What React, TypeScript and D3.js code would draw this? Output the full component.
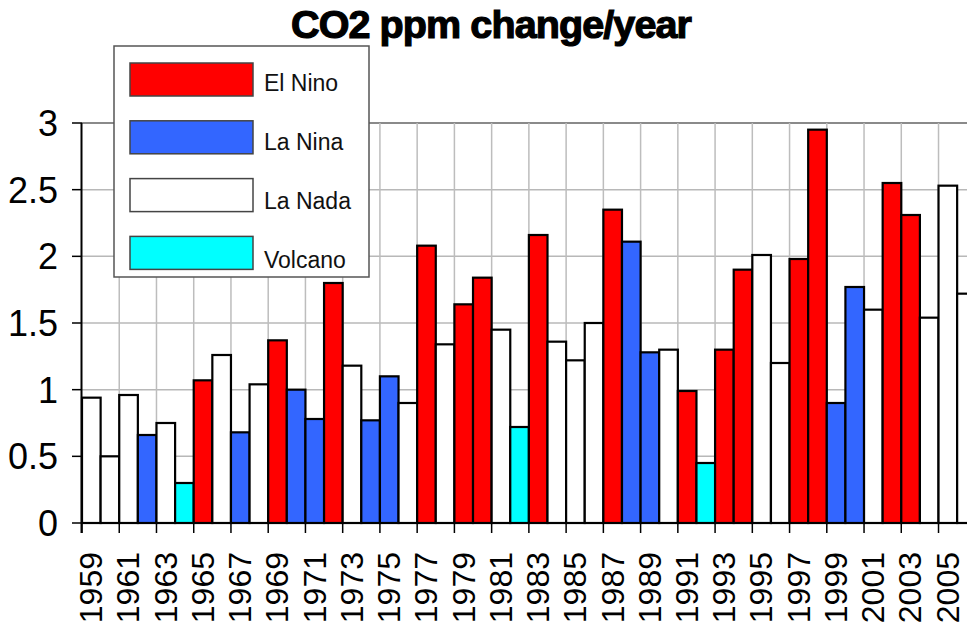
import React from "react";
import * as d3 from "d3";

const years: number[] = [
  1959, 1960, 1961, 1962, 1963, 1964, 1965, 1966, 1967, 1968, 1969, 1970,
  1971, 1972, 1973, 1974, 1975, 1976, 1977, 1978, 1979, 1980, 1981, 1982,
  1983, 1984, 1985, 1986, 1987, 1988, 1989, 1990, 1991, 1992, 1993, 1994,
  1995, 1996, 1997, 1998, 1999, 2000, 2001, 2002, 2003, 2004, 2005, 2006,
];
const values: number[] = [
  0.94, 0.5, 0.96, 0.66, 0.75, 0.3, 1.07, 1.26, 0.68, 1.04, 1.37, 1.0,
  0.78, 1.8, 1.18, 0.77, 1.1, 0.9, 2.08, 1.34, 1.64, 1.84, 1.45, 0.72,
  2.16, 1.36, 1.22, 1.5, 2.35, 2.11, 1.28, 1.3, 0.99, 0.45, 1.3, 1.9,
  2.01, 1.2, 1.98, 2.95, 0.9, 1.77, 1.6, 2.55, 2.31, 1.54, 2.53, 1.72,
];
// E = El Nino, L = La Nina, N = La Nada, V = Volcano
const phases: string[] = [
  "N", "N", "N", "L", "N", "V", "E", "N", "L", "N", "E", "L",
  "L", "E", "N", "L", "L", "N", "E", "N", "E", "E", "N", "V",
  "E", "N", "N", "N", "E", "L", "L", "N", "E", "V", "E", "E",
  "N", "N", "E", "E", "L", "L", "N", "E", "E", "N", "N", "N",
];
const legendKeys: string[] = ["E", "L", "N", "V"];
const legendLabels: string[] = ["El Nino", "La Nina", "La Nada", "Volcano"];
const yTicks: number[] = [0, 0.5, 1, 1.5, 2, 2.5, 3];
const title = "CO2 ppm change/year";

const colors: Record<string, string> = {
  E: "#ff0000",
  L: "#3366ff",
  N: "#ffffff",
  V: "#00ffff",
};

const W = 967;
const H = 630;
const left = 82;
const yearW = 18.62;
const top = 123;
const bottom = 523;

export default function App() {
  const x = d3
    .scaleBand<number>()
    .domain(years)
    .range([left, left + years.length * yearW])
    .padding(0);
  const y = d3.scaleLinear().domain([0, 3]).range([bottom, top]);
  const right = left + years.length * yearW;
  const font = "'Liberation Sans', Arial, sans-serif";
  const oddYears = years.filter((d) => d % 2 === 1);

  return (
    <svg
      width={W}
      height={H}
      style={{ position: "absolute", left: 0, top: 0, background: "#fff" }}
    >
      <rect x={0} y={0} width={W} height={H} fill="#fff" />
      {/* horizontal grid */}
      {yTicks
        .filter((t) => t > 0)
        .map((t) => (
          <line
            key={"hg" + t}
            x1={left}
            x2={right}
            y1={y(t)}
            y2={y(t)}
            stroke={t === 3 ? "#8a8a8a" : "#b8b8b8"}
            strokeWidth={t === 3 ? 2 : 1.5}
          />
        ))}
      {/* vertical grid at odd-year boundaries */}
      {oddYears
        .filter((d) => d !== years[0])
        .map((d) => (
          <line
            key={"vg" + d}
            x1={x(d)!}
            x2={x(d)!}
            y1={top}
            y2={bottom}
            stroke="#bdbdbd"
            strokeWidth={1.5}
          />
        ))}
      {/* bars */}
      {years.map((d, i) => (
        <rect
          key={"b" + d}
          x={x(d)!}
          y={y(values[i])}
          width={x.bandwidth()}
          height={y(0) - y(values[i])}
          fill={colors[phases[i]]}
          stroke="#000"
          strokeWidth={2.2}
        />
      ))}
      {/* axes */}
      <line x1={left} x2={right} y1={bottom} y2={bottom} stroke="#000" strokeWidth={2} />
      <line x1={left - 0.5} x2={left - 0.5} y1={top} y2={bottom + 10} stroke="#000" strokeWidth={2} />
      {yTicks.map((t) => (
        <g key={"yt" + t}>
          <line x1={left - 10} x2={left} y1={y(t)} y2={y(t)} stroke="#000" strokeWidth={1.5} />
          <text
            x={58}
            y={y(t)}
            dy="0.36em"
            textAnchor="end"
            fontFamily={font}
            fontSize={36}
            fill="#000"
          >
            {String(t)}
          </text>
        </g>
      ))}
      {oddYears.map((d) => (
        <g key={"xt" + d}>
          <line x1={x(d)!} x2={x(d)!} y1={bottom} y2={bottom + 10} stroke="#000" strokeWidth={1.5} />
          <text
            transform={`translate(${x(d)! + x.bandwidth() / 2 - 1},${552}) rotate(-90)`}
            dy="0.37em"
            textAnchor="end"
            fontFamily={font}
            fontSize={32}
            fill="#000"
          >
            {String(d)}
          </text>
        </g>
      ))}
      {/* legend */}
      <rect x={114} y={46} width={255} height={231} fill="#fff" stroke="#555" strokeWidth={1.5} />
      {legendKeys.map((k, i) => (
        <g key={"lg" + k}>
          <rect
            x={130}
            y={63 + i * 57.8}
            width={123}
            height={33}
            fill={colors[k]}
            stroke="#444"
            strokeWidth={1.5}
          />
          <text x={264} y={91 + i * 59} fontFamily={font} fontSize={23} fill="#111">
            {legendLabels[i]}
          </text>
        </g>
      ))}
      {/* title */}
      <text
        x={491}
        y={38}
        textAnchor="middle"
        fontFamily={font}
        fontWeight="bold"
        fontSize={39.5}
        letterSpacing={-0.9}
        stroke="#000"
        strokeWidth={1.2}
        fill="#000"
      >
        {title}
      </text>
    </svg>
  );
}
